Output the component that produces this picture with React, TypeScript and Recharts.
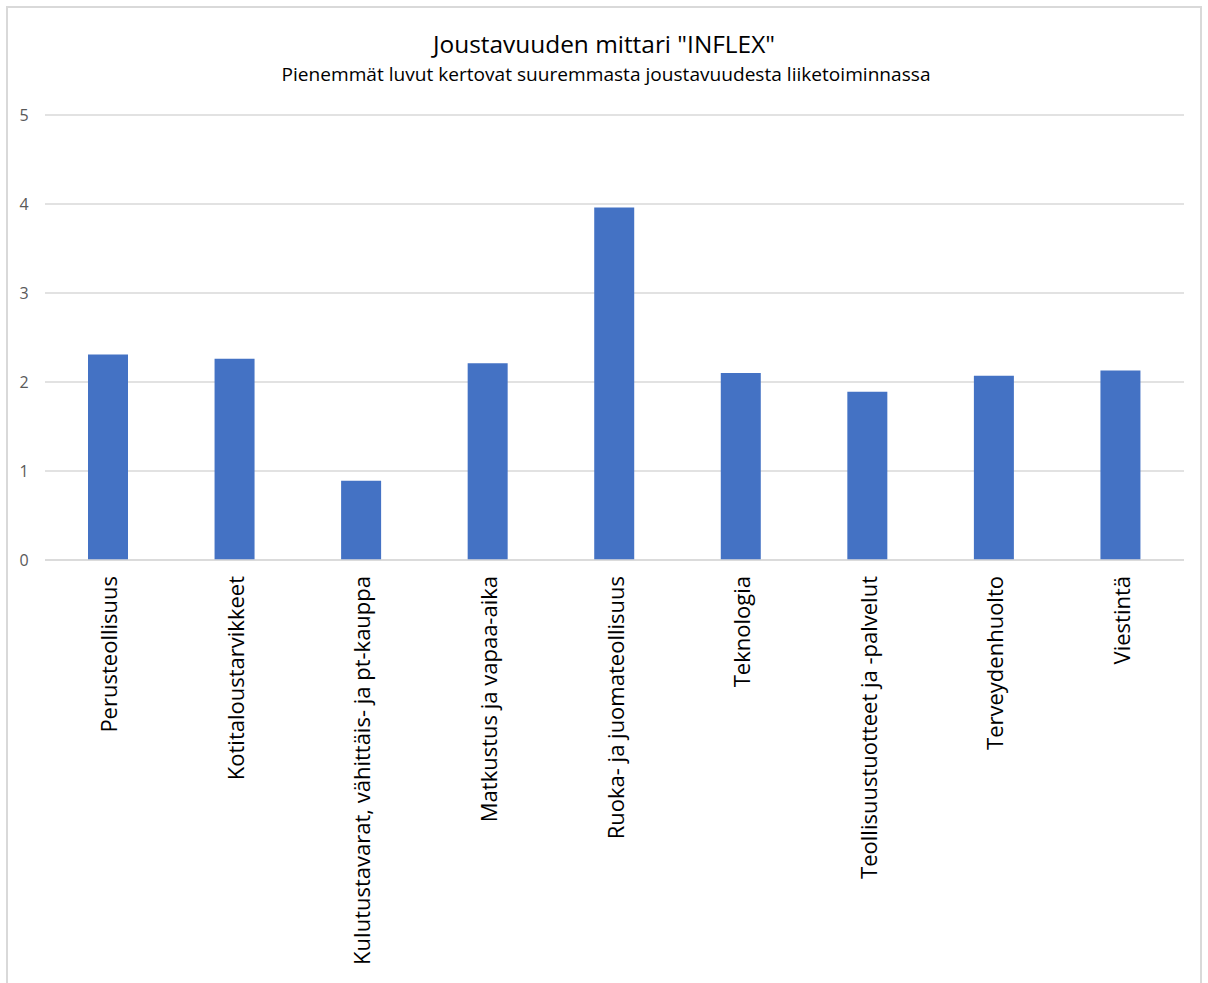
import React from 'react';
import { BarChart, Bar, XAxis, YAxis, CartesianGrid } from 'recharts';

const categories = [
  'Perusteollisuus',
  'Kotitaloustarvikkeet',
  'Kulutustavarat, vähittäis- ja pt-kauppa',
  'Matkustus ja vapaa-aika',
  'Ruoka- ja juomateollisuus',
  'Teknologia',
  'Teollisuustuotteet ja -palvelut',
  'Terveydenhuolto',
  'Viestintä',
];
const values = [2.31, 2.26, 0.89, 2.21, 3.96, 2.1, 1.89, 2.07, 2.13];
const yTicks = [0, 1, 2, 3, 4, 5];
const title = 'Joustavuuden mittari "INFLEX"';
const subtitle = 'Pienemmät luvut kertovat suuremmasta joustavuudesta liiketoiminnassa';

const data = categories.map((name, i) => ({ name, value: values[i] }));

const FONT = '"Open Sans", "Segoe UI", sans-serif';

const XTick = (props: any) => {
  const { x, y, payload } = props;
  return (
    <text
      x={0}
      y={0}
      transform={`translate(${x},${y + 8}) rotate(-90)`}
      textAnchor="end"
      dominantBaseline="central"
      fontFamily={FONT}
      fontSize={22}
      fill="#000"
    >
      {payload.value}
    </text>
  );
};

const YTick = (props: any) => {
  const { y, payload } = props;
  return (
    <text x={24} y={y} textAnchor="middle" dominantBaseline="central" fontFamily={FONT} fontSize={16} fill="#595959">
      {payload.value}
    </text>
  );
};

export default function App() {
  return (
    <div style={{ position: 'absolute', left: 0, top: 0, width: 1208, height: 983, overflow: 'hidden', background: '#fff' }}>
      <div style={{ position: 'absolute', left: 6, top: 6, width: 1196, height: 1100, border: '2px solid #d9d9d9', boxSizing: 'border-box' }} />
      <div style={{ position: 'absolute', left: 0, top: 0 }}>
        <BarChart width={1208} height={983} data={data} margin={{ top: 115, right: 24, left: 5, bottom: 0 }}>
          <CartesianGrid vertical={false} stroke="#d9d9d9" strokeWidth={1.5} />
          <XAxis dataKey="name" interval={0} height={423} tick={<XTick />} tickLine={false} axisLine={{ stroke: '#d9d9d9', strokeWidth: 1.5 }} />
          <YAxis width={40} domain={[0, 5]} ticks={yTicks} tick={<YTick />} axisLine={false} tickLine={false} />
          <Bar dataKey="value" fill="#4472C4" barSize={40} isAnimationActive={false} />
        </BarChart>
      </div>
      <svg width={1208} height={120} style={{ position: 'absolute', left: 0, top: 0, pointerEvents: 'none' }}>
        <text x={604} y={53} textAnchor="middle" fontFamily={FONT} fontSize={23} fill="#000" textLength={342} lengthAdjust="spacingAndGlyphs">
          {title}
        </text>
        <text x={606} y={81} textAnchor="middle" fontFamily={FONT} fontSize={18} fill="#000" textLength={649} lengthAdjust="spacingAndGlyphs">
          {subtitle}
        </text>
      </svg>
    </div>
  );
}
